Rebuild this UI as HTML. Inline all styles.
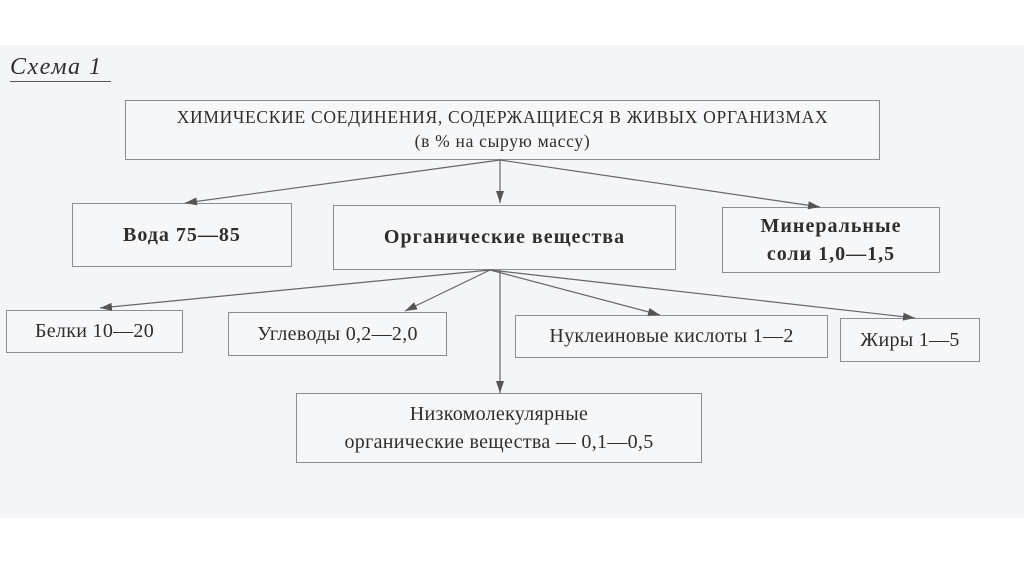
<!DOCTYPE html>
<html><head><meta charset="utf-8"><style>
body{margin:0;width:1024px;height:574px;background:#fff;position:relative;overflow:hidden;font-family:"Liberation Serif",serif;color:#2e2e2e}
.bg{position:absolute;left:0;top:45px;width:1024px;height:473px;background:#f3f5f8}
.b{position:absolute;border:1.5px solid #8a8d92;box-sizing:border-box;background:#f6f7f9;display:flex;align-items:center;justify-content:center;text-align:center;line-height:1.25;white-space:nowrap}
.t{position:absolute}
.bold{font-weight:bold;font-size:20px;letter-spacing:1px}
.low{font-size:20px;letter-spacing:0.3px}
</style></head><body>
<div class="bg"></div>
<div class="t" style="left:10px;top:54px;font-style:italic;font-size:24px;letter-spacing:1.5px;border-bottom:1.5px solid #555;padding-right:8px">Схема 1</div>
<div class="b" style="left:125px;top:100px;width:755px;height:60px;font-size:17.5px;letter-spacing:0.7px;line-height:1.35">ХИМИЧЕСКИЕ СОЕДИНЕНИЯ, СОДЕРЖАЩИЕСЯ В ЖИВЫХ ОРГАНИЗМАХ<br>(в % на сырую массу)</div>
<div class="b bold" style="left:72px;top:203px;width:220px;height:64px">Вода 75—85</div>
<div class="b bold" style="left:333px;top:205px;width:343px;height:65px">Органические вещества</div>
<div class="b bold" style="left:722px;top:207px;width:218px;height:66px;line-height:1.4">Минеральные<br>соли 1,0—1,5</div>
<div class="b low" style="left:6px;top:310px;width:177px;height:43px">Белки 10—20</div>
<div class="b low" style="left:228px;top:312px;width:219px;height:44px">Углеводы 0,2—2,0</div>
<div class="b low" style="left:515px;top:315px;width:313px;height:43px">Нуклеиновые кислоты 1—2</div>
<div class="b low" style="left:840px;top:318px;width:140px;height:44px">Жиры 1—5</div>
<div class="b low" style="left:296px;top:393px;width:406px;height:70px;line-height:1.4">Низкомолекулярные<br>органические вещества — 0,1—0,5</div>
<svg width="1024" height="574" style="position:absolute;left:0;top:0">
<defs><marker id="a" markerWidth="12" markerHeight="8" refX="12" refY="4" orient="auto" markerUnits="userSpaceOnUse"><path d="M0,0L12,4L0,8z" fill="#555"/></marker></defs>
<g stroke="#666" stroke-width="1.2" marker-end="url(#a)">
<line x1="500" y1="160" x2="185" y2="203"/>
<line x1="500" y1="160" x2="500" y2="203"/>
<line x1="500" y1="160" x2="820" y2="207"/>
<line x1="490" y1="270" x2="100" y2="308"/>
<line x1="490" y1="270" x2="405" y2="311"/>
<line x1="490" y1="270" x2="660" y2="315"/>
<line x1="490" y1="270" x2="915" y2="318"/>
<line x1="500" y1="270" x2="500" y2="393"/>
</g></svg>
</body></html>
